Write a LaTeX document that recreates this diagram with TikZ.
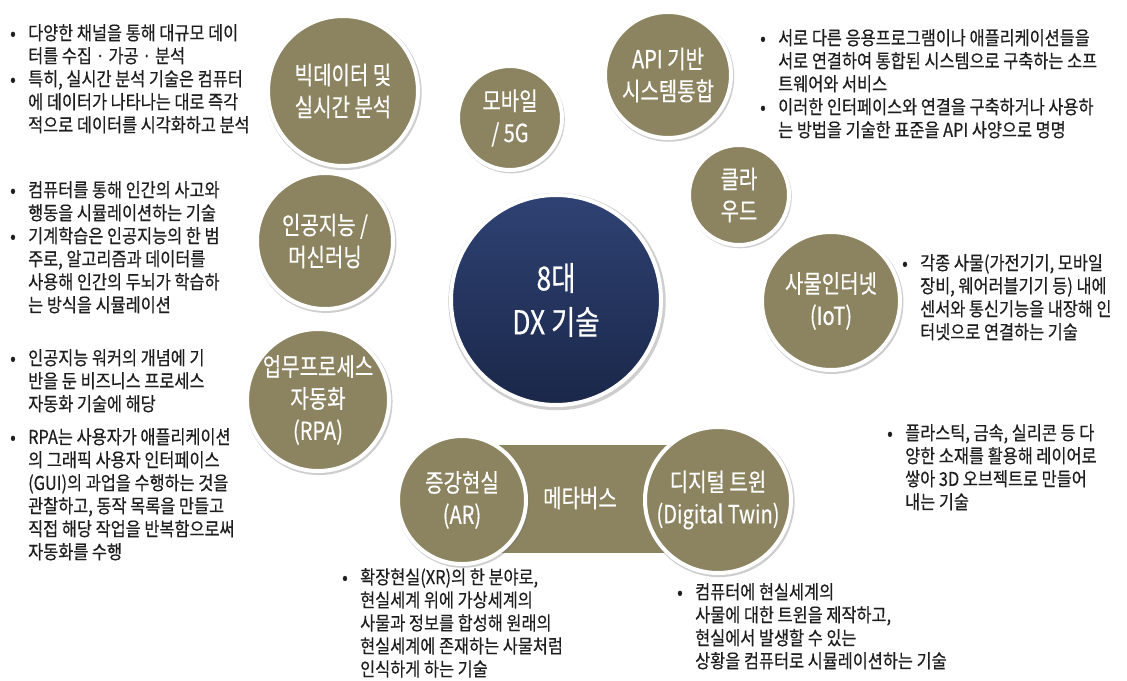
\documentclass[tikz,border=0pt]{standalone}
\usepackage{fontspec}
\setmainfont{Noto Sans CJK KR}[FakeStretch=0.86]
\newfontfamily\circfont{Noto Sans CJK KR}[FakeStretch=0.8, FakeBold=0.4]
\newfontfamily\descfont{Noto Sans CJK KR}[FakeStretch=0.86, FakeBold=0.4]
\usetikzlibrary{shadows,backgrounds}
\definecolor{dxolive}{HTML}{8C8460}
\definecolor{linkc}{HTML}{D6D2BA}
\definecolor{navytop}{HTML}{2F4273}
\definecolor{navybot}{HTML}{1A2749}
\definecolor{desctext}{HTML}{1E1E1E}
\newcommand{\bpt}{\makebox[18pt][l]{•}}
\newcommand{\bin}{\hspace*{18pt}}
\tikzset{
  glow/.style={drop shadow={opacity=0.35, shadow scale=1.035, shadow xshift=1pt, shadow yshift=-1.5pt, fill=black!55}},
  sat/.style={circle, fill=dxolive, draw=white, line width=4pt, text=white,
    align=center, inner sep=0pt, font=\circfont\fontsize{25}{32}\selectfont, glow},
  hub/.style={circle, top color=navytop, bottom color=navybot, draw=white,
    line width=4pt, text=white, align=center, inner sep=0pt,
    font=\circfont\fontsize{33}{44}\selectfont, glow},
  link/.style={draw=linkc, line width=4pt},
  metabox/.style={rectangle, fill=dxolive, inner sep=0pt},
  desc/.style={anchor=north west, align=left, inner sep=0pt, text=desctext,
    font=\descfont\fontsize{19}{23}\selectfont},
}
\begin{document}
\begin{tikzpicture}[x=1pt,y=-1pt]
\useasboundingbox[fill=white] (0,0) rectangle (1127,680);

% metaverse band
\node[metabox, minimum width=256pt, minimum height=108pt] (meta) at (590,499) {};

% circles
\node[hub, minimum size=210pt] (c) at (556,300) {8대\\DX 기술};
\node[sat, minimum size=150pt] (bd) at (343,91) {빅데이터 및\\실시간 분석};
\node[sat, minimum size=104pt] (mob) at (510,118) {모바일\\/ 5G};
\node[sat, minimum size=126pt] (api) at (668,75) {API 기반\\시스템통합};
\node[sat, minimum size=100pt] (cl) at (739,195) {클라\\우드};
\node[sat, minimum size=138pt] (iot) at (831,301) {사물인터넷\\(IoT)};
\node[sat, minimum size=136pt] (ai) at (325,241) {인공지능 /\\머신러닝};
\node[sat, minimum size=140pt] (rpa) at (318,400) {업무프로세스\\자동화\\(RPA)};
\node[sat, minimum size=128pt] (ar) at (462,500) {증강현실\\(AR)};
\node[sat, minimum size=146pt] (dt) at (718,500) {디지털 트윈\\(Digital Twin)};
\node[text=white, font=\circfont\fontsize{25}{30}\selectfont] (metatext) at (580,498) {메타버스};

% connectors
\begin{pgfonlayer}{background}
\foreach \s in {bd,mob,api,cl,iot,ai,rpa,ar,dt}
  \draw[link] (c.center) -- (\s.center);
\end{pgfonlayer}

% descriptions
\node[desc] (dbd) at (10,24) {\bpt 다양한 채널을 통해 대규모 데이\\
\bin 터를 수집 · 가공 · 분석\\
\bpt 특히, 실시간 분석 기술은 컴퓨터\\
\bin 에 데이터가 나타나는 대로 즉각\\
\bin 적으로 데이터를 시각화하고 분석};

\node[desc] (dai) at (10,181) {\bpt 컴퓨터를 통해 인간의 사고와\\
\bin 행동을 시뮬레이션하는 기술\\
\bpt 기계학습은 인공지능의 한 범\\
\bin 주로, 알고리즘과 데이터를\\
\bin 사용해 인간의 두뇌가 학습하\\
\bin 는 방식을 시뮬레이션};

\node[desc] (drpa) at (10,349) {\bpt 인공지능 워커의 개념에 기\\
\bin 반을 둔 비즈니스 프로세스\\
\bin 자동화 기술에 해당\\[10pt]
\bpt RPA는 사용자가 애플리케이션\\
\bin 의 그래픽 사용자 인터페이스\\
\bin (GUI)의 과업을 수행하는 것을\\
\bin 관찰하고, 동작 목록을 만들고\\
\bin 직접 해당 작업을 반복함으로써\\
\bin 자동화를 수행};

\node[desc] (dapi) at (760,29) {\bpt 서로 다른 응용프로그램이나 애플리케이션들을\\
\bin 서로 연결하여 통합된 시스템으로 구축하는 소프\\
\bin 트웨어와 서비스\\
\bpt 이러한 인터페이스와 연결을 구축하거나 사용하\\
\bin 는 방법을 기술한 표준을 API 사양으로 명명};

\node[desc] (diot) at (902,254) {\bpt 각종 사물(가전기기, 모바일\\
\bin 장비, 웨어러블기기 등) 내에\\
\bin 센서와 통신기능을 내장해 인\\
\bin 터넷으로 연결하는 기술};

\node[desc] (d3d) at (887,424) {\bpt 플라스틱, 금속, 실리콘 등 다\\
\bin 양한 소재를 활용해 레이어로\\
\bin 쌓아 3D 오브젝트로 만들어\\
\bin 내는 기술};

\node[desc] (dar) at (342,568) {\bpt 확장현실(XR)의 한 분야로,\\
\bin 현실세계 위에 가상세계의\\
\bin 사물과 정보를 합성해 원래의\\
\bin 현실세계에 존재하는 사물처럼\\
\bin 인식하게 하는 기술};

\node[desc] (ddt) at (677,583) {\bpt 컴퓨터에 현실세계의\\
\bin 사물에 대한 트윈을 제작하고,\\
\bin 현실에서 발생할 수 있는\\
\bin 상황을 컴퓨터로 시뮬레이션하는 기술};
\end{tikzpicture}
\end{document}
